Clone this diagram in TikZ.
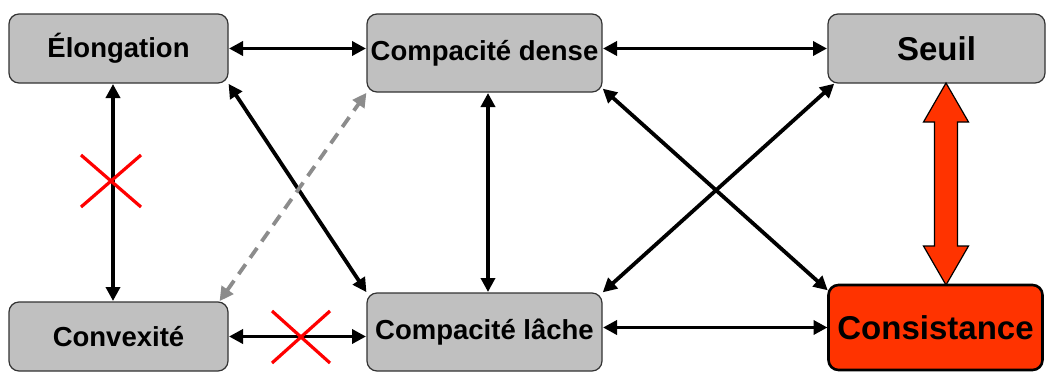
\documentclass[tikz,border=0pt]{standalone}
\usepackage{fontspec}
\setmainfont{Liberation Sans}
\usetikzlibrary{arrows.meta}
\definecolor{boxgray}{HTML}{C0C0C0}
\definecolor{consred}{HTML}{FF3300}
\definecolor{dashgray}{HTML}{8C8C8C}
\tikzset{
  gbox/.style={draw=black!80, line width=1.2pt, fill=boxgray, rounded corners=10pt,
    inner sep=0pt, outer sep=0pt, font=\fontsize{27.5}{30}\selectfont\bfseries},
  conn/.style={line width=3.8pt, {Triangle[length=14pt,width=14pt]}-{Triangle[length=14pt,width=14pt]}, shorten <=1pt, shorten >=1pt},
  dconn/.style={conn, draw=dashgray, dash pattern=on 12pt off 8pt},
  cross/.style={draw=red, line width=3.2pt},
}
\begin{document}
\begin{tikzpicture}[x=1pt,y=-1pt]
\useasboundingbox (0,0) rectangle (1047,372);
\node[gbox, minimum width=219pt, minimum height=69pt] (elong) at (118.5,48.5) {Élongation};
\node[gbox, minimum width=235pt, minimum height=78pt] (cd) at (484.5,53) {Compacité dense};
\node[gbox, minimum width=217pt, minimum height=69pt, font=\fontsize{33}{36}\selectfont\bfseries] (seuil) at (936.5,48.5) {Seuil};
\node[gbox, minimum width=219pt, minimum height=69pt] (conv) at (118.5,336.5) {Convexité};
\node[gbox, minimum width=235pt, minimum height=78pt] (cl) at (484.5,332) {Compacité lâche};
\node[gbox, fill=consred, draw=black, line width=2.6pt, minimum width=214pt, minimum height=85pt, font=\fontsize{33}{36}\selectfont\bfseries] (cons) at (935.5,327.5) {Consistance};

% connectors
\draw[conn] (elong.east) -- (elong.east -| cd.west);
\draw[conn] (cd.east |- seuil.west) -- (seuil.west);
\draw[conn] ([xshift=-5.5pt]elong.south) -- ([xshift=-5.5pt]conv.north);
\draw[conn] ([xshift=3.5pt]cd.south) -- ([xshift=3.5pt]cl.north);
\draw[conn] (conv.east) -- (conv.east -| cl.west);
\draw[conn] (cl.east |- cons.west) -- (cons.west);
\draw[conn] (elong.south east) -- (cl.north west);
\draw[dconn] ([xshift=-9pt]conv.north east) -- (cd.south west);
\draw[conn] ([yshift=4pt]cd.south east) -- ([yshift=-6pt]cons.north west);
\draw[conn] (cl.north east) -- ([xshift=7pt]seuil.south west);

% red double arrow
\coordinate (ax) at (946,0);
\coordinate (rt) at (seuil.south -| ax);
\coordinate (rb) at (cons.north -| ax);
\draw[draw=black, line width=1.2pt, fill=consred, line join=miter]
  (rt) -- ([shift={(22.5,39)}]rt) -- ([shift={(11.5,39)}]rt)
  -- ([shift={(11.5,-39)}]rb) -- ([shift={(22.5,-39)}]rb) -- (rb)
  -- ([shift={(-22.5,-39)}]rb) -- ([shift={(-11.5,-39)}]rb)
  -- ([shift={(-11.5,39)}]rt) -- ([shift={(-22.5,39)}]rt) -- cycle;

% crosses
\coordinate (x1) at (111,181);
\coordinate (x2) at (301,337);
\draw[cross] ([shift={(-30,-26)}]x1) -- ([shift={(30,26)}]x1);
\draw[cross] ([shift={(-30,26)}]x1) -- ([shift={(30,-26)}]x1);
\draw[cross] ([shift={(-29,-26)}]x2) -- ([shift={(29,26)}]x2);
\draw[cross] ([shift={(-29,26)}]x2) -- ([shift={(29,-26)}]x2);
\end{tikzpicture}
\end{document}
